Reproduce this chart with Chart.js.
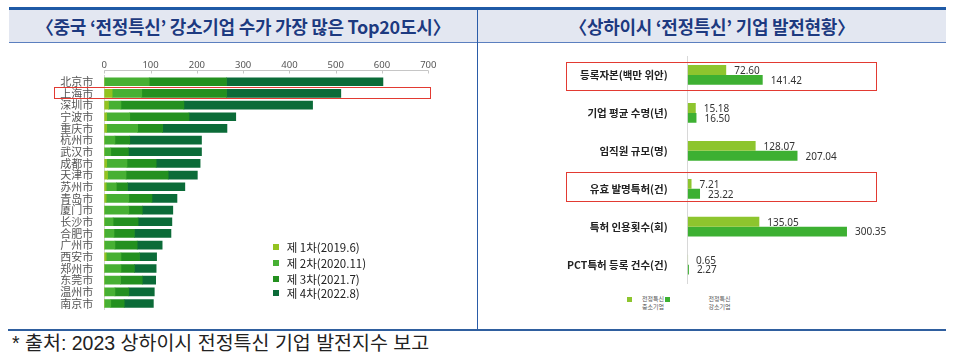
<!DOCTYPE html>
<html><head><meta charset="utf-8">
<script src="https://cdn.jsdelivr.net/npm/chart.js@4.4.1/dist/chart.umd.min.js"></script>
<style>
html,body{margin:0;padding:0;background:#fff;}
body{width:957px;height:354px;position:relative;overflow:hidden;font-family:"Noto Sans CJK KR",sans-serif;}
.abs{position:absolute;}
#topline{left:9px;top:7px;width:937px;height:3px;background:#1f5aa6;}
#band{left:9px;top:10px;width:937px;height:32px;background:#e3e7f1;border-bottom:1px solid #5b7fbf;}
#divider{left:477px;top:10px;width:1px;height:320px;background:#2a5ca8;}
#bottomline{left:8px;top:329px;width:938px;height:2px;background:#2f5f9f;}
.title{top:10px;height:32px;line-height:32px;font-weight:bold;font-size:18px;color:#1d3a80;text-align:center;white-space:nowrap;letter-spacing:-0.3px;text-shadow:0 0 1px #fff;}
#t1{left:9px;width:468px;}
#t2{left:478px;width:468px;}
canvas{position:absolute;}
#c1{left:0;top:50px;}
#c2{left:478px;top:50px;}
.red{border:1.5px solid #e23a32;box-sizing:border-box;}
#r1{left:54px;top:87px;width:377px;height:12px;}
#r2{left:566px;top:62px;width:311px;height:29px;}
#r3{left:566px;top:172px;width:311px;height:30px;}
.lg{font-size:11.5px;color:#222;white-space:nowrap;}
.mk{width:6px;height:6px;}
.lg2{font-size:6px;color:#555;line-height:8px;text-align:center;white-space:nowrap;}
#foot{left:12px;top:330px;font-family:"Liberation Sans","Noto Sans CJK KR",sans-serif;font-size:19.5px;color:#222;white-space:nowrap;line-height:26px;}
</style></head>
<body>
<div class="abs" id="band"></div>
<div class="abs" id="topline"></div>
<div class="abs" id="divider"></div>
<div class="abs" id="bottomline"></div>
<div class="abs title" id="t1">〈중국 ‘전정특신’ 강소기업 수가 가장 많은 Top20도시〉</div>
<div class="abs title" id="t2">〈상하이시 ‘전정특신’ 기업 발전현황〉</div>
<canvas id="c1" width="478" height="270"></canvas>
<canvas id="c2" width="479" height="240"></canvas>
<div class="abs red" id="r1"></div>
<div class="abs red" id="r2"></div>
<div class="abs red" id="r3"></div>
<div id="legend1"></div>
<div id="legend2"></div>
<div class="abs" id="foot">* 출처: 2023 상하이시 전정특신 기업 발전지수 보고</div>
<script>
// ---- Left chart data ----
const cities = ["北京市","上海市","深圳市","宁波市","重庆市","杭州市","武汉市","成都市","天津市","苏州市","青岛市","厦门市","长沙市","合肥市","广州市","西安市","郑州市","东莞市","温州市","南京市"];
const round1 = [0,17,9,5,5,0,0,5,7,4,4,0,0,0,0,4,0,0,0,0];
const round2 = [97,64,27,50,67,23,14,44,40,22,49,53,19,21,23,32,36,35,23,14];
const round3 = [167,183,136,128,54,32,38,63,91,24,50,29,54,44,48,40,29,47,30,29];
const round4 = [338,247,278,101,139,155,158,95,63,124,54,66,73,79,54,37,47,29,55,63];
const roundLabels = ["제 1차(2019.6)","제 2차(2020.11)","제 3차(2021.7)","제 4차(2022.8)"];
const xTicksMax = 700;

// ---- Right chart data ----
const metrics = ["등록자본(백만 위안)","기업 평균 수명(년)","임직원 규모(명)","유효 발명특허(건)","특허 인용횟수(회)","PCT특허 등록 건수(건)"];
const smeValues = [72.60,15.18,128.07,7.21,135.05,0.65];
const giantValues = [141.42,16.50,207.04,23.22,300.35,2.27];
const seriesLabels = [["전정특신","중소기업"],["전정특신","강소기업"]];

const roundColors = ["#93c320","#47b033","#23901f","#0b6b38"];
const rightColors = ["#8dc52e","#3db032"];

Chart.defaults.font.family = '"Noto Sans CJK KR", sans-serif';
Chart.defaults.animation = false;

const topAxis = {
  id:'topAxis',
  afterDraw(chart){
    const xs = chart.scales.x, ctx = chart.ctx;
    const y = Math.round(chart.chartArea.top - 6) + 0.5;
    ctx.save();
    ctx.strokeStyle = '#c6c6c6'; ctx.lineWidth = 1;
    ctx.beginPath();
    ctx.moveTo(xs.left, y); ctx.lineTo(xs.right, y);
    xs.ticks.forEach(t => {
      const px = Math.round(xs.getPixelForValue(t.value)) + 0.5;
      ctx.moveTo(px, y); ctx.lineTo(px, y + 3);
    });
    ctx.stroke();
    ctx.restore();
  }
};

new Chart(document.getElementById('c1'), {
  type:'bar',
  data:{
    labels:cities,
    datasets:[round1,round2,round3,round4].map((d,i)=>({label:roundLabels[i],data:d,backgroundColor:roundColors[i],borderWidth:0,barThickness:8}))
  },
  options:{
    responsive:false,
    indexAxis:'y',
    layout:{padding:{left:0,right:49.7,top:0,bottom:10.7}},
    plugins:{legend:{display:false},tooltip:{enabled:false}},
    scales:{
      x:{position:'top',stacked:true,min:0,max:xTicksMax,
        ticks:{stepSize:100,color:'#555',font:{family:'"Noto Sans", sans-serif',size:9.5},padding:-3,maxRotation:0},
        grid:{display:false},border:{display:false},
        afterFit(s){s.height=25.9;}
      },
      y:{stacked:true,
        ticks:{color:'#555',font:{family:'"Noto Sans CJK SC", sans-serif',size:11},padding:11,autoSkip:false},
        grid:{display:false,drawTicks:false},border:{display:true,color:'#d4d4d4'},
        afterFit(s){s.width=104.3;s.paddingTop=0;s.paddingBottom=0;}
      }
    }
  },
  plugins:[topAxis]
});

const valueLabels = {
  id:'valueLabels',
  afterDatasetsDraw(chart){
    const ctx = chart.ctx;
    ctx.save();
    ctx.font = '10px "Noto Sans", sans-serif';
    ctx.fillStyle = '#333';
    ctx.textBaseline = 'middle';
    ctx.textAlign = 'left';
    chart.data.datasets.forEach((ds,i)=>{
      chart.getDatasetMeta(i).data.forEach((bar,j)=>{
        ctx.fillText(ds.data[j].toFixed(2), bar.x + 8, bar.y + 1);
      });
    });
    ctx.restore();
  }
};

new Chart(document.getElementById('c2'), {
  type:'bar',
  data:{
    labels:metrics,
    datasets:[smeValues,giantValues].map((d,i)=>({label:seriesLabels[i].join(' '),data:d,backgroundColor:rightColors[i],borderWidth:0,categoryPercentage:0.52,barPercentage:1}))
  },
  options:{
    responsive:false,
    indexAxis:'y',
    layout:{padding:{left:0,right:89,top:6,bottom:6.4}},
    plugins:{legend:{display:false},tooltip:{enabled:false}},
    scales:{
      x:{display:false,min:0,max:340},
      y:{
        ticks:{color:'#222',font:{size:10.5,weight:'bold'},padding:20,autoSkip:false},
        grid:{display:false,drawTicks:false},border:{display:true,color:'#d8d8d8'},
        afterFit(s){s.width=209.7;s.paddingTop=0;s.paddingBottom=0;}
      }
    }
  },
  plugins:[valueLabels]
});

// HTML legends
const l1 = document.getElementById('legend1');
const l1Y = [246.7,262.7,278.7,293.3];
roundLabels.forEach((t,i)=>{
  const m = document.createElement('div');
  m.className='abs mk'; m.style.left='273px'; m.style.top=(l1Y[i]-3)+'px'; m.style.background=roundColors[i];
  l1.appendChild(m);
  const s = document.createElement('div');
  s.className='abs lg'; s.style.left='286.7px'; s.style.top=(l1Y[i]-9)+'px'; s.style.lineHeight='18px'; s.textContent=t;
  l1.appendChild(s);
});
const l2 = document.getElementById('legend2');
const mkX = [627,665], txX = [653,719.5];
seriesLabels.forEach((t,i)=>{
  const m = document.createElement('div');
  m.className='abs mk'; m.style.width='5px'; m.style.height='5px'; m.style.left=mkX[i]+'px'; m.style.top='297px'; m.style.background=rightColors[i];
  l2.appendChild(m);
  const s = document.createElement('div');
  s.className='abs lg2'; s.style.left=(txX[i]-20)+'px'; s.style.width='40px'; s.style.top='295px';
  s.innerHTML=t[0]+'<br>'+t[1];
  l2.appendChild(s);
});
</script>
</body></html>
